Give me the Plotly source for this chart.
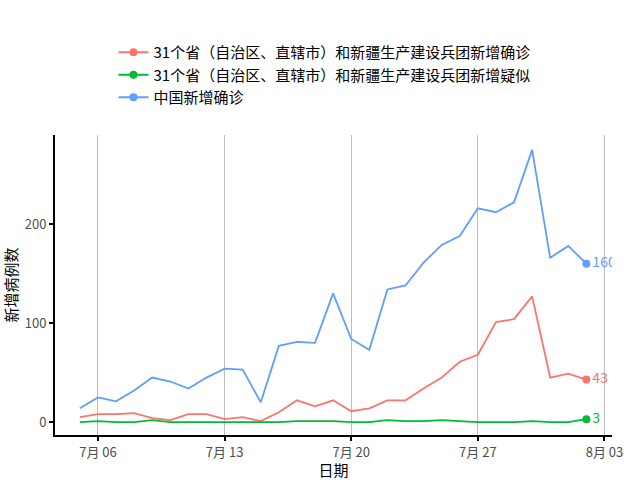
import plotly.graph_objects as go
import pandas as pd

dates = pd.date_range("2020-07-05", "2020-08-02").strftime("%Y-%m-%d").tolist()

confirmed_31 = [5, 8, 8, 9, 4, 2, 8, 8, 3, 5, 1, 10, 22, 16, 22, 11, 14, 22, 22, 34, 45, 61, 68, 101, 104, 127, 45, 49, 43]
suspected_31 = [0, 1, 0, 0, 2, 0, 0, 0, 0, 0, 0, 0, 1, 1, 1, 0, 0, 2, 1, 1, 2, 1, 0, 0, 0, 1, 0, 0, 3]
china_confirmed = [14, 25, 21, 32, 45, 41, 34, 45, 54, 53, 20, 77, 81, 80, 130, 84, 73, 134, 138, 161, 179, 188, 216, 212, 222, 275, 166, 178, 160]

series_names = [
    "31个省（自治区、直辖市）和新疆生产建设兵团新增确诊",
    "31个省（自治区、直辖市）和新疆生产建设兵团新增疑似",
    "中国新增确诊",
]
series_values = [confirmed_31, suspected_31, china_confirmed]
colors = ["#F8766D", "#00BA38", "#619CFF"]

tick_vals = ["2020-07-06", "2020-07-13", "2020-07-20", "2020-07-27", "2020-08-03"]
tick_text = ["7月 06", "7月 13", "7月 20", "7月 27", "8月 03"]
y_tick_vals = [0, 100, 200]

FONT = "Noto Sans CJK SC"

fig = go.Figure()
for name, vals, c in zip(series_names, series_values, colors):
    fig.add_trace(go.Scatter(x=dates, y=vals, mode="lines", line=dict(color=c, width=1.8),
                             showlegend=False, hoverinfo="skip"))
    fig.add_trace(go.Scatter(x=[dates[-1]], y=[vals[-1]], mode="markers+text",
                             marker=dict(color=c, size=8), text=[str(vals[-1])],
                             textposition="middle right", textfont=dict(color=c, size=14, family=FONT),
                             cliponaxis=True, showlegend=False))
for name, c in zip(series_names, colors):
    fig.add_trace(go.Scatter(x=[None], y=[None], mode="lines+markers", name=name,
                             line=dict(color=c, width=2), marker=dict(color=c, size=8)))

fig.update_layout(
    width=640, height=480,
    paper_bgcolor="white", plot_bgcolor="white",
    margin=dict(l=55, r=28, t=135, b=45, autoexpand=False),
    font=dict(family=FONT, color="black"),
    legend=dict(x=0.105, y=1.33, xanchor="left", yanchor="top",
                font=dict(size=15, color="black", family=FONT),
                tracegroupgap=0, itemwidth=30, bgcolor="rgba(0,0,0,0)"),
    xaxis=dict(type="date", range=["2020-07-03 15:00", "2020-08-03 10:00"],
               tickvals=tick_vals, ticktext=tick_text, automargin=False,
               showgrid=True, gridcolor="#bebebe", gridwidth=1,
               showline=True, linecolor="black", linewidth=2,
               ticks="outside", ticklen=4, tickwidth=2, tickcolor="black",
               tickfont=dict(size=13, color="#4d4d4d", family=FONT),
               title=dict(text="日期", font=dict(size=15, color="black", family=FONT), standoff=4),
               zeroline=False),
    yaxis=dict(range=[-13, 290], tickvals=y_tick_vals, automargin=False,
               showgrid=False,
               showline=True, linecolor="black", linewidth=2,
               ticks="outside", ticklen=4, tickwidth=2, tickcolor="black",
               tickfont=dict(size=13, color="#4d4d4d", family=FONT),
               title=dict(text="新增病例数", font=dict(size=15, color="black", family=FONT), standoff=6),
               zeroline=False),
)

fig.write_html("out.html")
